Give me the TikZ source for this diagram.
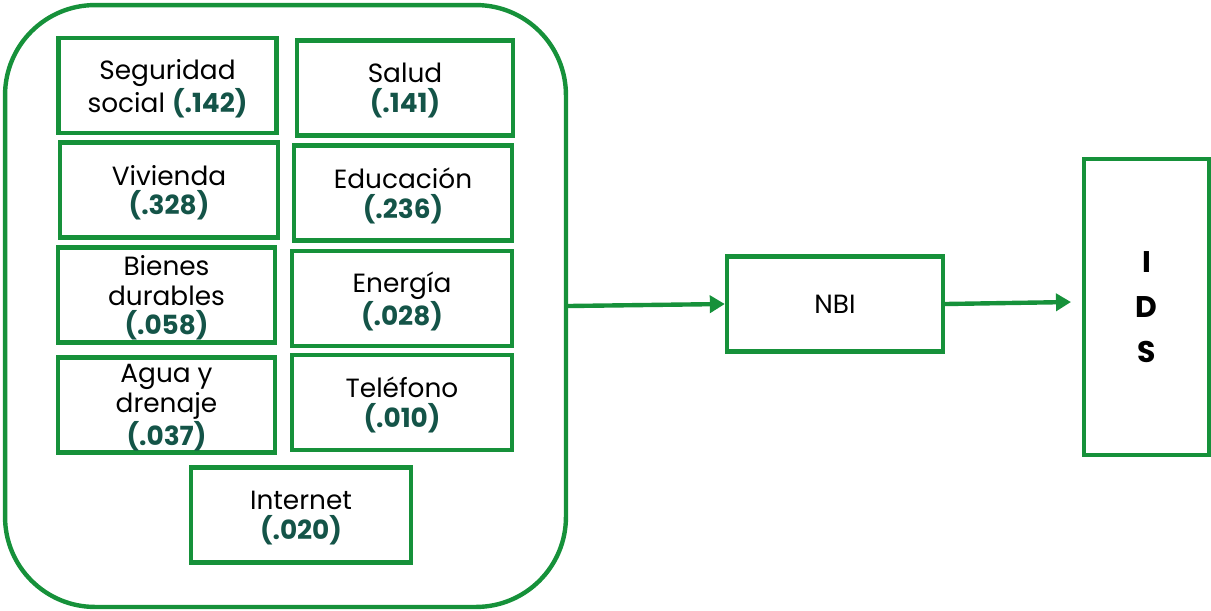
\documentclass[tikz,border=0pt]{standalone}
\usepackage{fontspec}
\setmainfont{Poppins}
\usetikzlibrary{arrows.meta}
\definecolor{verde}{RGB}{22,145,58}
\definecolor{cifra}{RGB}{20,84,72}
\newcommand{\peso}[1]{{\bfseries\color{cifra}#1}}
\tikzset{
  caja/.style={draw=verde, line width=2.5pt, align=center, inner sep=0pt,
    minimum width=4.36cm, minimum height=1.9cm, text depth=-10pt,
    font=\fontsize{15}{17}\selectfont},
  flecha/.style={draw=verde, line width=2.5pt,
    -{Triangle[length=0.3cm,width=0.34cm]}}
}
\begin{document}
\begin{tikzpicture}[x=0.02cm,y=-0.02cm]
      \useasboundingbox (0,0) rectangle (1211,610);
      \node[caja, rounded corners=1.8cm, minimum width=11.22cm,
        minimum height=12.04cm] (marco) at (285.5,306) {};
      \node[caja] (seg) at (167.5,85.5) {Seguridad\\social \peso{(.142)}};
      \node[caja, minimum width=4.32cm] (sal) at (405,88) {Salud\\\peso{(.141)}};
      \node[caja] (viv) at (169,190) {Vivienda\\\peso{(.328)}};
      \node[caja] (edu) at (403,193) {Educación\\\peso{(.236)}};
      \node[caja, minimum width=4.34cm] (bie) at (166.5,295) {Bienes\\durables\\\peso{(.058)}};
      \node[caja, minimum width=4.4cm] (ene) at (402,298.5) {Energía\\\peso{(.028)}};
      \node[caja, minimum width=4.34cm] (agu) at (166.5,405) {Agua y\\drenaje\\\peso{(.037)}};
      \node[caja, minimum width=4.4cm] (tel) at (402,402.5) {Teléfono\\\peso{(.010)}};
      \node[caja, minimum width=4.4cm] (int) at (301,515) {Internet\\\peso{(.020)}};
      \node[caja, minimum width=4.32cm] (nbi) at (835,304) {NBI};
      \node[caja, minimum width=2.5cm, minimum height=5.92cm,
        font=\fontsize{17}{25.5}\selectfont\bfseries] (ids) at (1146.5,307) {I\\D\\S};
      \coordinate (fin) at (1071,302);
      \begin{scope}[flecha]
        \draw (marco.east) to (nbi.west);
        \draw (nbi.east) to (fin);
      \end{scope}
    \end{tikzpicture}
\end{document}
